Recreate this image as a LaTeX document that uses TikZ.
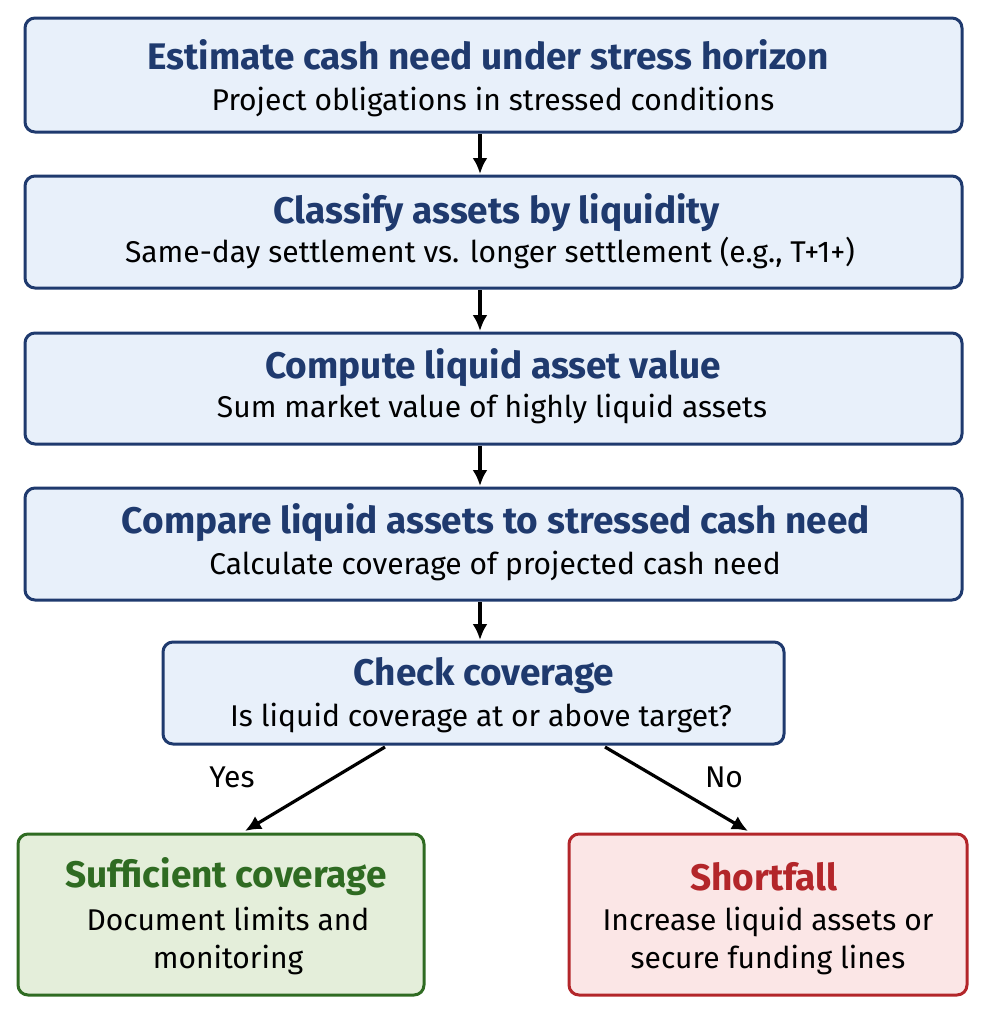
\documentclass[tikz,border=0pt]{standalone}
\usepackage{fontspec}
\setmainfont{Fira Sans}
\usetikzlibrary{arrows.meta}
\definecolor{navy}{HTML}{1F3A6E}
\definecolor{bfill}{HTML}{E8F0FA}
\definecolor{gfill}{HTML}{E4EEDA}
\definecolor{gline}{HTML}{2F6B22}
\definecolor{rfill}{HTML}{FBE6E6}
\definecolor{rline}{HTML}{B3262A}
\begin{document}
\begin{tikzpicture}[x=1pt,y=-1pt,
  box/.style={draw=navy,line width=3pt,fill=bfill,rounded corners=10pt},
  gbox/.style={draw=gline,line width=3pt,fill=gfill,rounded corners=10pt},
  rbox/.style={draw=rline,line width=3pt,fill=rfill,rounded corners=10pt},
  ttl/.style={font=\fontsize{37}{42}\selectfont\bfseries},
  sub/.style={font=\fontsize{30}{38}\selectfont,align=center},
  arr/.style={-{Latex[length=16pt,width=15pt]},line width=3.2pt}]
\useasboundingbox (0,0) rectangle (985,1012);
\draw[box] (25,18) rectangle (962,132);
\node[ttl,text=navy] (t1) at (488,55) {Estimate cash need under stress horizon};
\node[sub] (s1) at (493,102) {Project obligations in stressed conditions};
\draw[box] (25,176) rectangle (962,288);
\node[ttl,text=navy] (t2) at (497,213) {Classify assets by liquidity};
\node[sub] (s2) at (490,253) {Same-day settlement vs. longer settlement (e.g., T+1+)};
\draw[box] (25,333) rectangle (962,444);
\node[ttl,text=navy] (t3) at (493,368) {Compute liquid asset value};
\node[sub] (s3) at (492,409) {Sum market value of highly liquid assets};
\draw[box] (25,488) rectangle (962,600);
\node[ttl,text=navy] (t4) at (496,523) {Compare liquid assets to stressed cash need};
\node[sub] (s4) at (495,566) {Calculate coverage of projected cash need};
\draw[box] (163,642) rectangle (784,744);
\node[ttl,text=navy] (t5) at (484,676) {Check coverage};
\node[sub] (s5) at (481,718) {Is liquid coverage at or above target?};
\draw[gbox] (18,834) rectangle (424,995);
\node[ttl,text=gline] (t6) at (226,877) {Sufficient coverage};
\node[sub] (s6) at (228,941) {Document limits and\\monitoring};
\draw[rbox] (569,834) rectangle (967,995);
\node[ttl,text=rline] (t7) at (764,877) {Shortfall};
\node[sub] (s7) at (768,941) {Increase liquid assets or\\secure funding lines};
\coordinate (a1) at (480,134); \coordinate (b1) at (480,174);
\coordinate (a2) at (480,290); \coordinate (b2) at (480,331);
\coordinate (a3) at (480,446); \coordinate (b3) at (480,486);
\coordinate (a4) at (480,602); \coordinate (b4) at (480,640);
\coordinate (yA) at (385,747); \coordinate (yB) at (245,831);
\coordinate (nA) at (605,747); \coordinate (nB) at (748,831);
\draw[arr] (a1)--(b1); \draw[arr] (a2)--(b2); \draw[arr] (a3)--(b3); \draw[arr] (a4)--(b4);
\draw[arr] (yA)--(yB); \draw[arr] (nA)--(nB);
\node[sub] (yes) at (232,777) {Yes};
\node[sub] (no) at (724,777) {No};
\end{tikzpicture}
\end{document}
